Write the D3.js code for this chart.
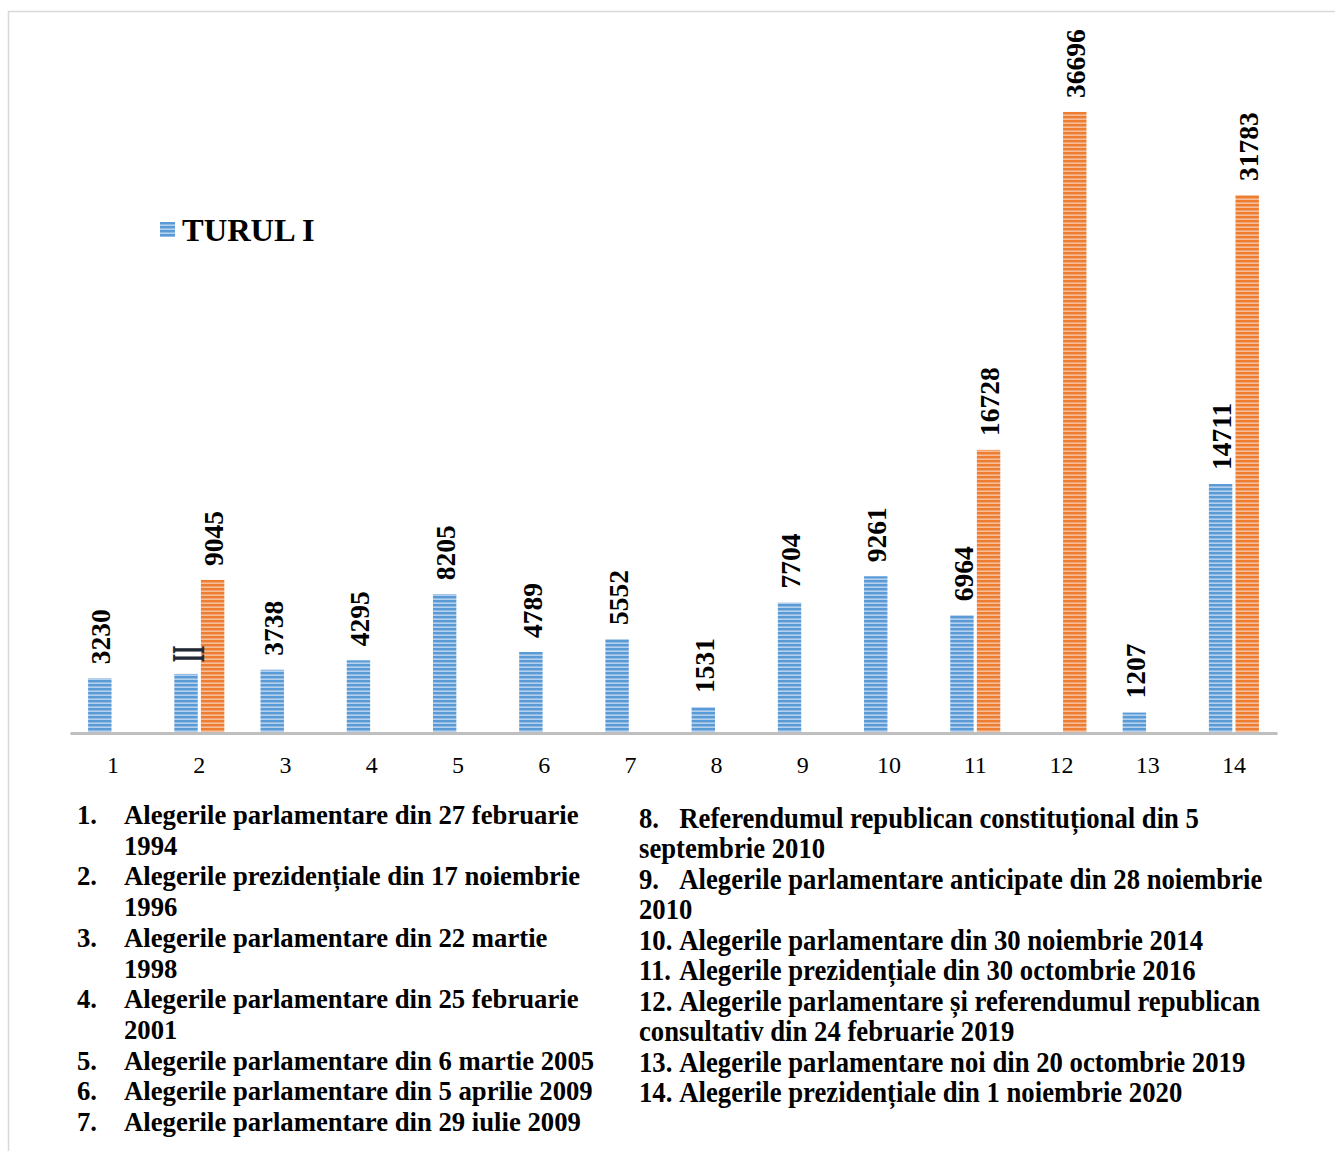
<!DOCTYPE html>
<html>
<head>
<meta charset="utf-8">
<script src="https://cdn.jsdelivr.net/npm/d3@7"></script>
<style>
  body { margin: 0; background: #fff; }
  svg { display: block; font-family: "Liberation Serif", "Times New Roman", serif; }
</style>
</head>
<body>
<svg id="chart" width="1335" height="1151"></svg>
<script>
// categories on the x axis (election number)
const categories = ['1', '2', '3', '4', '5', '6', '7', '8', '9', '10', '11', '12', '13', '14'];

// first round (TURUL I) and second round values, null where missing
const turulI = [3230, 3490, 3738, 4295, 8205, 4789, 5552, 1531, 7704, 9261, 6964, null, 1207, 14711];
const turulII = [null, 9045, null, null, null, null, null, null, null, null, 16728, 36696, null, 31783];

// labels shown above the bars (bar 2 of round I shows a stray "II")
const labelsI = ['3230', 'II', '3738', '4295', '8205', '4789', '5552', '1531', '7704', '9261', '6964', '', '1207', '14711'];
const labelsII = ['', '9045', '', '', '', '', '', '', '', '', '16728', '36696', '', '31783'];

const legendLabel = 'TURUL I';

// notes under the chart, split into lines as in the picture
const notesLeft = [
  ['1.', 'Alegerile parlamentare din 27 februarie', '1994'],
  ['2.', 'Alegerile prezidențiale din 17 noiembrie', '1996'],
  ['3.', 'Alegerile parlamentare din 22 martie', '1998'],
  ['4.', 'Alegerile parlamentare din 25 februarie', '2001'],
  ['5.', 'Alegerile parlamentare din 6 martie 2005'],
  ['6.', 'Alegerile parlamentare din 5 aprilie 2009'],
  ['7.', 'Alegerile parlamentare din 29 iulie 2009']
];
const notesRight = [
  ['8.', 'Referendumul republican constituțional din 5', 'septembrie 2010'],
  ['9.', 'Alegerile parlamentare anticipate din 28 noiembrie', '2010'],
  ['10.', 'Alegerile parlamentare din 30 noiembrie 2014'],
  ['11.', 'Alegerile prezidențiale din 30 octombrie 2016'],
  ['12.', 'Alegerile parlamentare și referendumul republican', 'consultativ din 24 februarie 2019'],
  ['13.', 'Alegerile parlamentare noi din 20 octombrie 2019'],
  ['14.', 'Alegerile prezidențiale din 1 noiembrie 2020']
];

const svg = d3.select('#chart');

// striped fills like the original bars
const defs = svg.append('defs');
const stripes = (id, dark, light) => {
  const p = defs.append('pattern')
    .attr('id', id)
    .attr('patternUnits', 'userSpaceOnUse')
    .attr('width', 8)
    .attr('height', 4);
  p.append('rect').attr('width', 8).attr('height', 4).attr('fill', light);
  p.append('rect').attr('width', 8).attr('height', 2.4).attr('fill', dark);
};
stripes('blueStripes', '#5b9bd5', '#b4d0ee');
stripes('orangeStripes', '#ed7d31', '#f7bd98');

// outer frame
svg.append('rect')
  .attr('x', 8.5)
  .attr('y', 11.5)
  .attr('width', 1340)
  .attr('height', 1160)
  .attr('fill', 'none')
  .attr('stroke', '#d9d9d9')
  .attr('stroke-width', 1.5);

const x = d3.scaleBand()
  .domain(categories)
  .range([70, 1277])
  .paddingInner(0.42)
  .paddingOuter(0.21);

const xSub = d3.scaleBand()
  .domain(['I', 'II'])
  .range([0, x.bandwidth()])
  .paddingInner(0.12);

const y = d3.scaleLinear()
  .domain([0, 40000])
  .range([733, 56]);

const rows = categories.map((c, i) => ({ cat: c, I: turulI[i], II: turulII[i], lI: labelsI[i], lII: labelsII[i] }));

const series = [
  { key: 'I', fill: 'url(#blueStripes)', label: 'lI' },
  { key: 'II', fill: 'url(#orangeStripes)', label: 'lII' }
];

const g = svg.append('g');

series.forEach((s) => {
  const data = rows.filter((d) => d[s.key] != null);

  g.selectAll('rect.bar' + s.key)
    .data(data)
    .join('rect')
    .attr('class', 'bar' + s.key)
    .attr('x', (d) => x(d.cat) + xSub(s.key))
    .attr('y', (d) => y(d[s.key]))
    .attr('width', xSub.bandwidth())
    .attr('height', (d) => y(0) - y(d[s.key]))
    .attr('fill', s.fill);

  // rotated value labels above each bar
  g.selectAll('text.val' + s.key)
    .data(data.filter((d) => d[s.label] && d[s.label] !== 'II'))
    .join('text')
    .attr('class', 'val' + s.key)
    .attr('transform', (d) => {
      const cx = x(d.cat) + xSub(s.key) + xSub.bandwidth() / 2;
      return `translate(${cx + 1},${y(d[s.key]) - 14}) rotate(-90)`;
    })
    .attr('dy', '0.35em')
    .attr('font-size', 27.5)
    .attr('font-weight', 'bold')
    .attr('fill', '#000')
    .text((d) => d[s.label]);
});

// the odd "II" mark over bar 2
g.selectAll('text.mark')
  .data(rows.filter((d) => d.lI === 'II'))
  .join('text')
  .attr('class', 'mark')
  .attr('transform', (d) => {
    const cx = x(d.cat) + xSub('I') + xSub.bandwidth() / 2;
    return `translate(${cx + 1},${y(d.I) - 20}) rotate(-90) scale(0.8,1.75)`;
  })
  .attr('text-anchor', 'middle')
  .attr('dy', '0.35em')
  .attr('font-size', 27)
  .attr('font-weight', 'bold')
  .attr('fill', '#1f2a36')
  .text((d) => d.lI);

// x axis
const xAxis = svg.append('g')
  .attr('transform', `translate(0,${y(0)})`)
  .call(d3.axisBottom(x).tickSize(0).tickPadding(23));
xAxis.select('.domain').attr('stroke', '#bfbfbf').attr('stroke-width', 3);
xAxis.selectAll('text')
  .attr('font-family', '"Liberation Serif", serif')
  .attr('font-size', 24)
  .attr('fill', '#000');

// legend
const legend = svg.append('g').attr('transform', 'translate(160,222)');
legend.append('rect').attr('width', 15).attr('height', 15).attr('fill', 'url(#blueStripes)');
legend.append('text')
  .attr('x', 22)
  .attr('y', 18.5)
  .attr('font-size', 32.5)
  .attr('font-weight', 'bold')
  .text(legendLabel);

// notes, left column
const lineH = 30.7;
const left = svg.append('g').attr('font-size', 26.7).attr('font-weight', 'bold');
let row = 0;
notesLeft.forEach((n) => {
  left.append('text').attr('x', 77).attr('y', 824 + row * lineH).text(n[0]);
  n.slice(1).forEach((line) => {
    left.append('text').attr('x', 124).attr('y', 824 + row * lineH).text(line);
    row++;
  });
});

// notes, right column (condensed type)
const right = svg.append('g')
  .attr('font-size', 28.5)
  .attr('font-weight', 'bold')
  .attr('transform', 'translate(639,0) scale(0.937,1)');
row = 0;
notesRight.forEach((n) => {
  n.slice(1).forEach((line, j) => {
    const t = right.append('text').attr('x', 0).attr('y', 828 + row * 30.5);
    if (j === 0) {
      t.append('tspan').text(n[0]);
      t.append('tspan').attr('x', 43).text(line);
    } else {
      t.text(line);
    }
    row++;
  });
});
</script>
</body>
</html>
